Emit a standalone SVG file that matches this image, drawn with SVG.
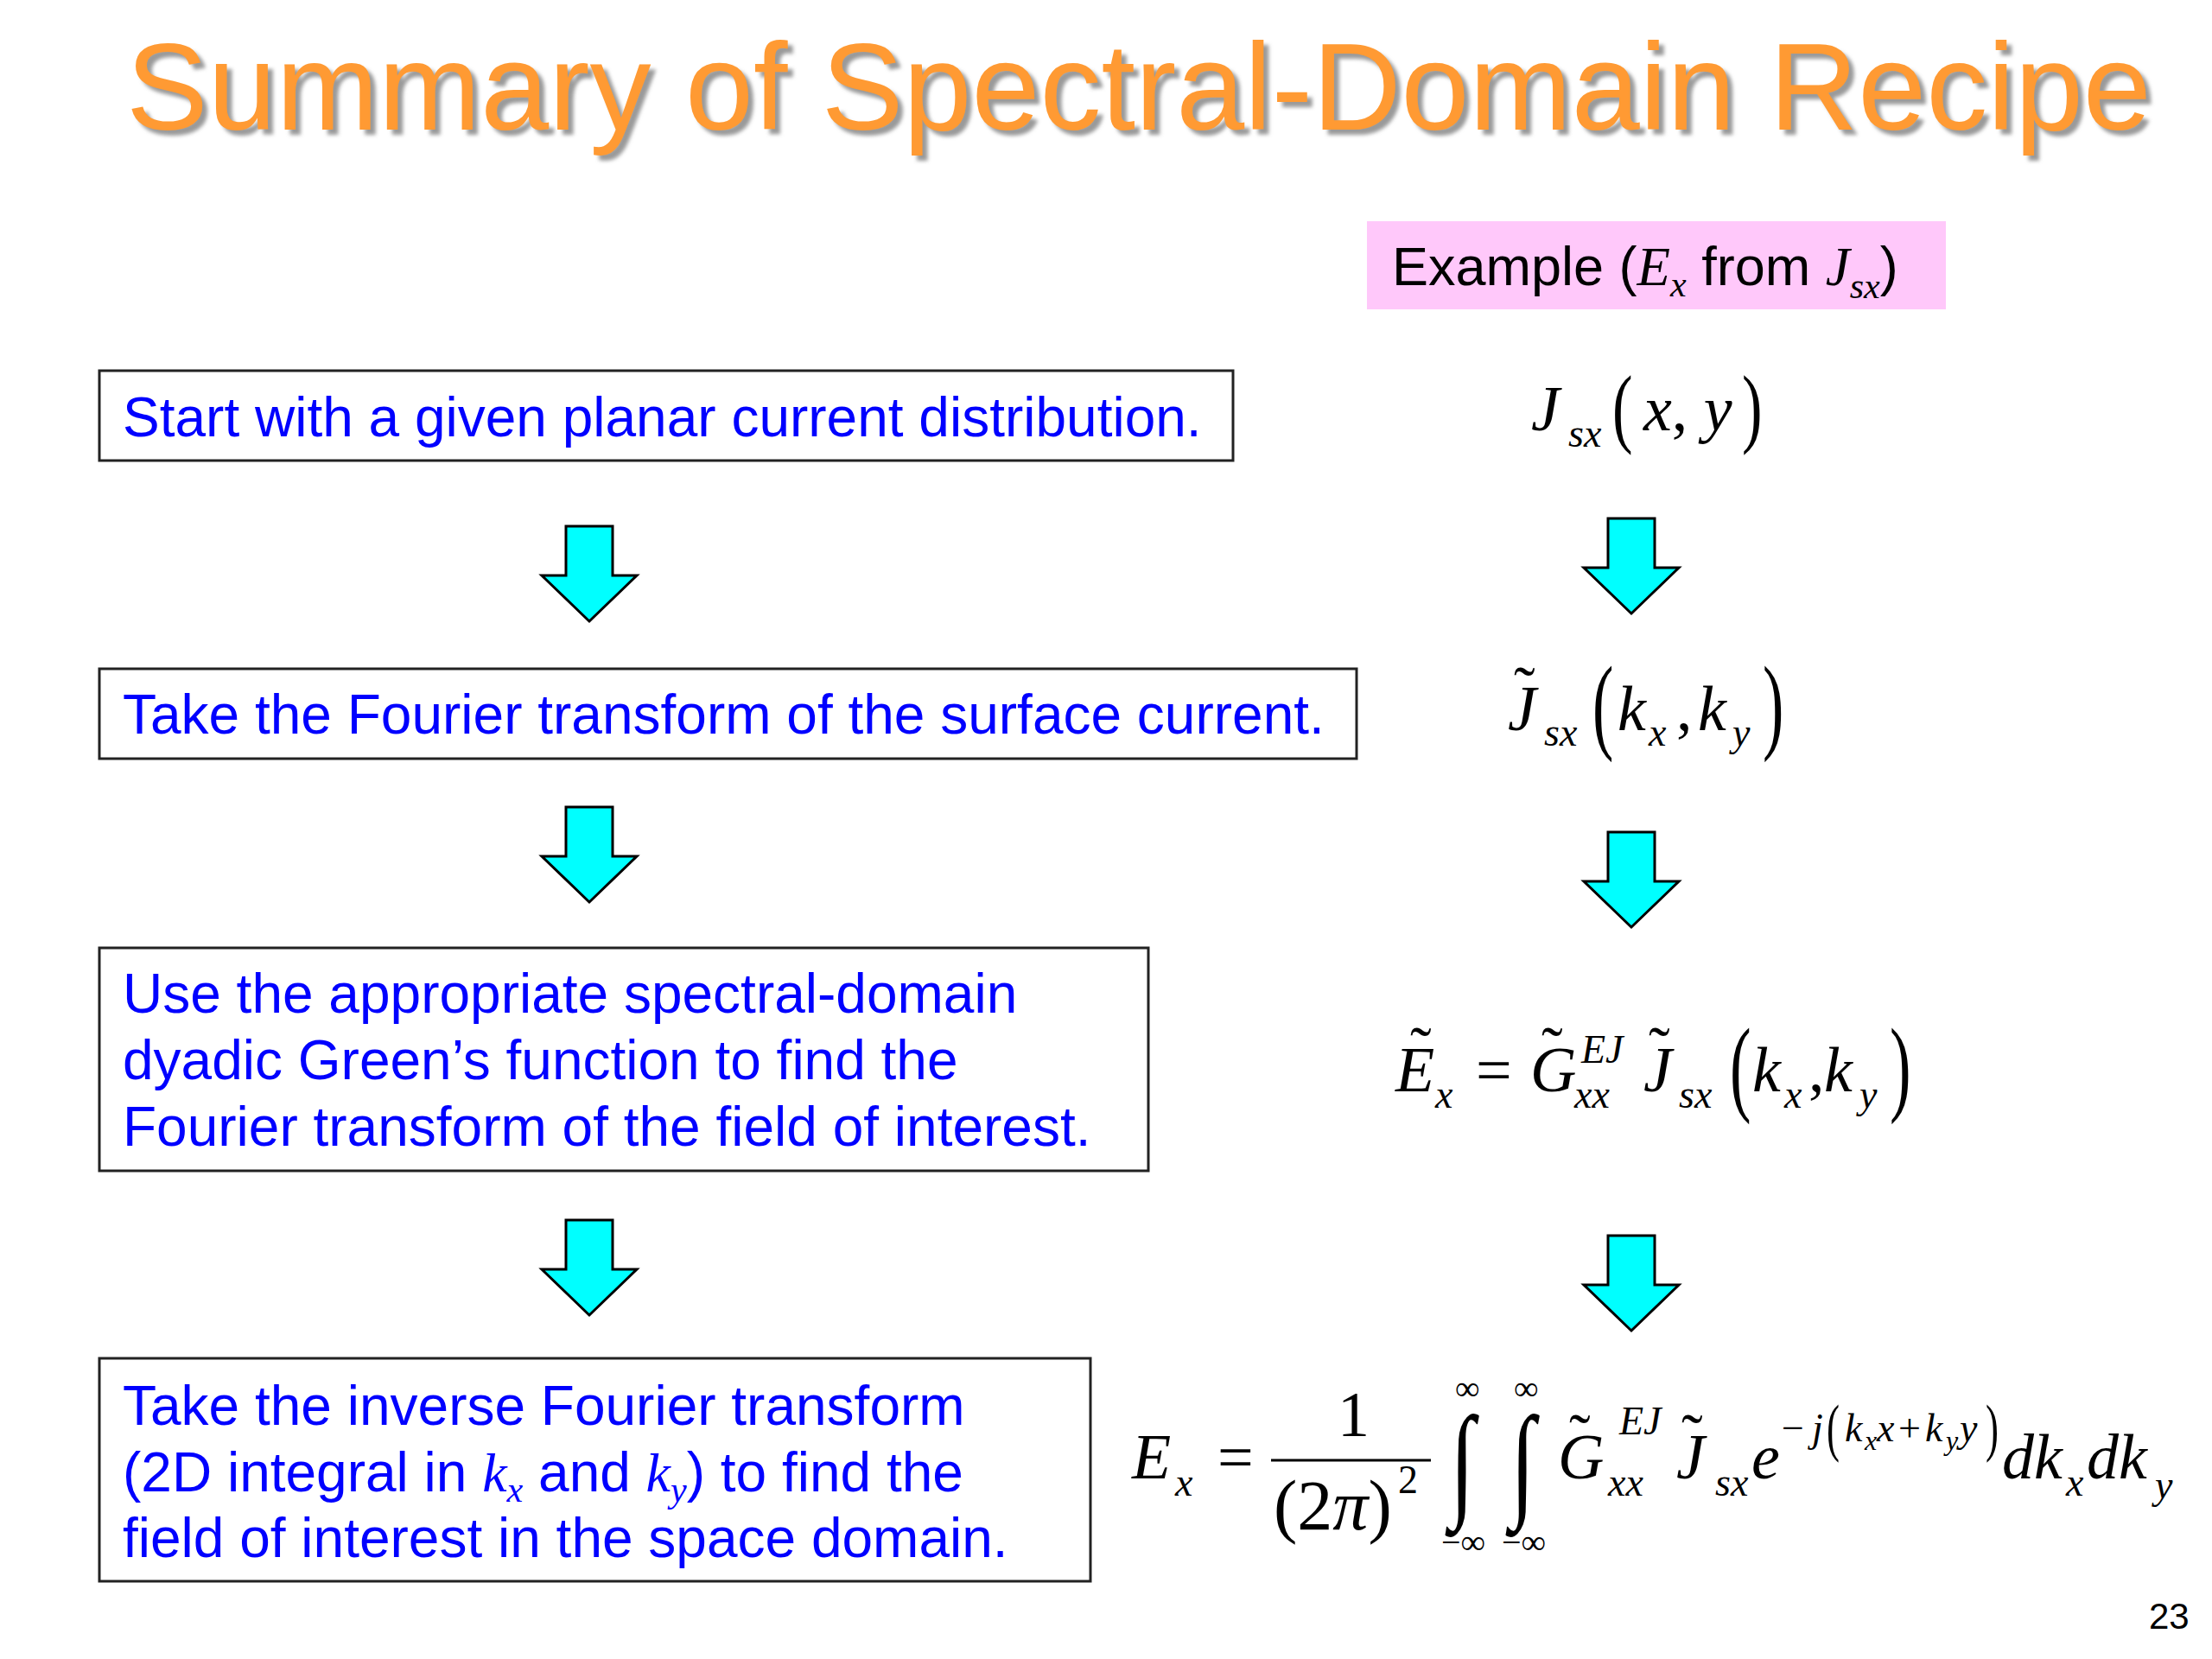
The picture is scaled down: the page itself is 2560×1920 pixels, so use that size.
<svg xmlns="http://www.w3.org/2000/svg" width="2560" height="1920" viewBox="0 0 2560 1920">
<style>
.ttl{font-family:"Liberation Sans",Arial,sans-serif;font-size:142px;}
.box{fill:#fff;stroke:#222;stroke-width:3;}
.bt{font-family:"Liberation Sans",Arial,sans-serif;font-size:64px;fill:#0000FF;}
.bk{font-family:"Liberation Sans",Arial,sans-serif;font-size:63px;fill:#000;}
.m{font-family:"Liberation Serif","Times New Roman",serif;font-style:italic;font-size:74px;fill:#000;}
.r{font-family:"Liberation Serif","Times New Roman",serif;font-style:normal;fill:#000;}
.s{font-size:46px;}
.ss{font-size:32px;}
.it{font-family:"Liberation Serif","Times New Roman",serif;font-style:italic;}
.arrow{fill:#00FFFF;stroke:#000;stroke-width:3;stroke-linejoin:miter;}
</style>
<defs>
<path id="arr" d="M-27,0 H27 V57 H55 L0,110 L-55,57 H-27 Z"/>
<filter id="blur" x="-5%" y="-20%" width="110%" height="140%"><feGaussianBlur stdDeviation="2"/></filter>
</defs>
<rect width="2560" height="1920" fill="#fff"/>

<g id="title">
<text class="ttl" x="152" y="156" fill="#9a9a9a" filter="url(#blur)">Summary of Spectral-Domain Recipe</text>
<text class="ttl" x="146" y="150" fill="#FF9A33">Summary of Spectral-Domain Recipe</text>
</g>

<g id="example">
<rect x="1582" y="256" width="670" height="102" fill="#FFC8FA"/>
<text class="bk" x="1611" y="330">Example (<tspan class="it" style="font-size:63px">E</tspan><tspan class="it" style="font-size:42px" dy="13">x</tspan><tspan dy="-13"> from </tspan><tspan class="it" style="font-size:63px">J</tspan><tspan class="it" style="font-size:42px" dy="15">sx</tspan><tspan dy="-15">)</tspan></text>
</g>

<g id="step1">
<rect class="box" x="115" y="429" width="1312" height="104"/>
<text class="bt" x="142" y="505">Start with a given planar current distribution.</text>
</g>
<g id="step2">
<rect class="box" x="115" y="774" width="1455" height="104"/>
<text class="bt" x="142" y="849">Take the Fourier transform of the surface current.</text>
</g>
<g id="step3">
<rect class="box" x="115" y="1097" width="1214" height="258"/>
<text class="bt" x="142" y="1172">Use the appropriate spectral-domain</text>
<text class="bt" x="142" y="1249">dyadic Green’s function to find the</text>
<text class="bt" x="142" y="1326">Fourier transform of the field of interest.</text>
</g>
<g id="step4">
<rect class="box" x="115" y="1572" width="1147" height="258"/>
<text class="bt" x="142" y="1649">Take the inverse Fourier transform</text>
<text class="bt" x="142" y="1726">(2D integral in <tspan class="it">k</tspan><tspan class="it" style="font-size:42px" dy="12">x</tspan><tspan dy="-12"> and </tspan><tspan class="it">k</tspan><tspan class="it" style="font-size:42px" dy="12">y</tspan><tspan dy="-12">) to find the</tspan></text>
<text class="bt" x="142" y="1802">field of interest in the space domain.</text>
</g>

<g id="eq1">
<text class="m" x="1772" y="498">J</text>
<text class="m s" x="1815" y="517">sx</text>
<text class="r" font-size="101" transform="translate(1866,505) scale(0.7,1)">(</text>
<text class="m" x="1902" y="498">x<tspan class="r">,</tspan> y</text>
<text class="r" font-size="101" transform="translate(2016,505) scale(0.7,1)">)</text>
</g>

<g id="eq2">
<text class="r" font-size="74" x="1752" y="823">˜</text>
<text class="m" x="1745" y="845">J</text>
<text class="m s" x="1787" y="863">sx</text>
<text class="r" font-size="122" transform="translate(1843,856) scale(0.6,1)">(</text>
<text class="m" x="1872" y="845">k</text>
<text class="m s" x="1908" y="863">x</text>
<text class="r" font-size="74" x="1940" y="845">,</text>
<text class="m" x="1965" y="845">k</text>
<text class="m s" x="2005" y="863">y</text>
<text class="r" font-size="122" transform="translate(2040,856) scale(0.6,1)">)</text>
</g>

<g id="eq3">
<text class="r" font-size="74" x="1632" y="1240">˜</text>
<text class="m" x="1615" y="1263">E</text>
<text class="m s" x="1661" y="1282">x</text>
<text class="r" font-size="74" x="1708" y="1263">=</text>
<text class="r" font-size="74" x="1784" y="1240">˜</text>
<text class="m" x="1771" y="1263">G</text>
<text class="m s" x="1830" y="1230">EJ</text>
<text class="m s" x="1822" y="1282">xx</text>
<text class="r" font-size="74" x="1908" y="1240">˜</text>
<text class="m" x="1902" y="1263">J</text>
<text class="m s" x="1943" y="1282">sx</text>
<text class="r" font-size="123" transform="translate(2002,1275) scale(0.6,1)">(</text>
<text class="m" x="2028" y="1263">k</text>
<text class="m s" x="2065" y="1282">x</text>
<text class="r" font-size="74" x="2093" y="1263">,</text>
<text class="m" x="2111" y="1263">k</text>
<text class="m s" x="2152" y="1282">y</text>
<text class="r" font-size="123" transform="translate(2187,1275) scale(0.6,1)">)</text>
</g>

<g id="eq4">
<text class="m" x="1310" y="1711">E</text>
<text class="m s" x="1360" y="1731">x</text>
<text class="r" font-size="74" x="1409" y="1711">=</text>
<line x1="1471" y1="1690" x2="1656" y2="1690" stroke="#000" stroke-width="3"/>
<text class="r" font-size="74" x="1548" y="1662">1</text>
<text class="r" font-size="82" x="1474" y="1770">(2<tspan class="it">π</tspan>)</text>
<text class="r s" x="1618" y="1728">2</text>
<text class="r" font-size="130" transform="translate(1678,1740) scale(0.8,1.12)">∫</text>
<text class="r" font-size="130" transform="translate(1748,1740) scale(0.8,1.12)">∫</text>
<text class="r" font-size="40" x="1684" y="1620">∞</text>
<text class="r" font-size="40" x="1752" y="1620">∞</text>
<text class="r" font-size="40" x="1668" y="1798">−∞</text>
<text class="r" font-size="40" x="1738" y="1798">−∞</text>
<text class="r" font-size="74" x="1816" y="1688">˜</text>
<text class="m" x="1803" y="1711">G</text>
<text class="m s" x="1874" y="1660">EJ</text>
<text class="m s" x="1861" y="1731">xx</text>
<text class="r" font-size="74" x="1946" y="1688">˜</text>
<text class="m" x="1940" y="1711">J</text>
<text class="m s" x="1985" y="1731">sx</text>
<text class="m" x="2027" y="1711">e</text>
<text class="r s" x="2062" y="1668">−</text>
<text class="m s" x="2097" y="1668">j</text>
<text class="r" font-size="75" transform="translate(2114,1677) scale(0.6,1)">(</text>
<text class="m s" x="2135" y="1668">k</text>
<text class="m ss" x="2158" y="1678">x</text>
<text class="m s" x="2172" y="1668">x</text>
<text class="r s" x="2197" y="1668">+</text>
<text class="m s" x="2228" y="1668">k</text>
<text class="m ss" x="2252" y="1678">y</text>
<text class="m s" x="2268" y="1668">y</text>
<text class="r" font-size="75" transform="translate(2298,1677) scale(0.6,1)">)</text>
<text class="m" x="2317" y="1711">dk</text>
<text class="m s" x="2391" y="1731">x</text>
<text class="m" x="2415" y="1711">dk</text>
<text class="m s" x="2494" y="1734">y</text>
</g>

<g id="connectors">
<use href="#arr" class="arrow" x="682" y="609"/>
<use href="#arr" class="arrow" x="682" y="934"/>
<use href="#arr" class="arrow" x="682" y="1412"/>
<use href="#arr" class="arrow" x="1888" y="600"/>
<use href="#arr" class="arrow" x="1888" y="963"/>
<use href="#arr" class="arrow" x="1888" y="1430"/>
</g>

<text class="bk" x="2487" y="1885" style="font-size:42px">23</text>
</svg>
